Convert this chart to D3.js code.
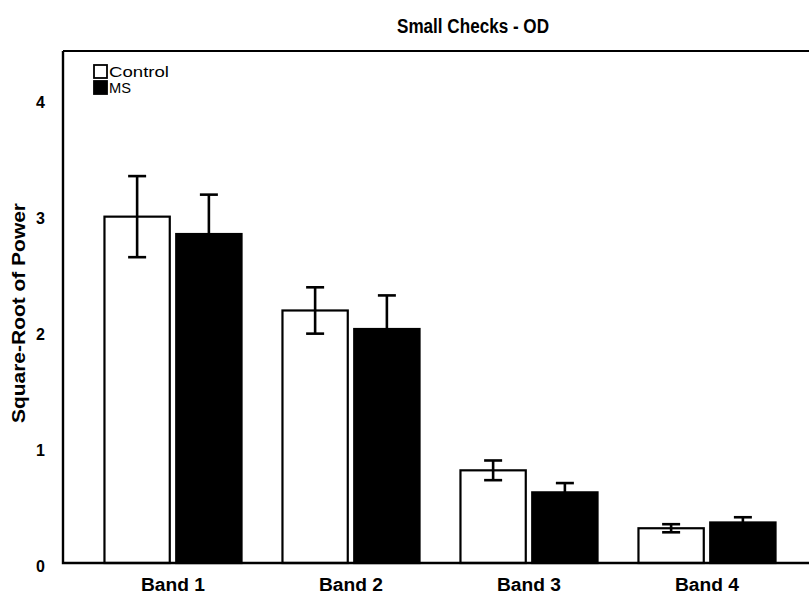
<!DOCTYPE html>
<html>
<head>
<meta charset="utf-8">
<script src="https://cdn.jsdelivr.net/npm/d3@7"></script>
<style>
  html, body { margin: 0; padding: 0; background: #fff; }
  svg { display: block; font-family: Arial, "Liberation Sans", sans-serif; }
</style>
</head>
<body>
<svg id="chart" width="809" height="594"></svg>
<script>
// Bands and groups
const bands = ["Band 1", "Band 2", "Band 3", "Band 4"];
const groups = ["Control", "MS"];

// Mean square-root of power per band
const controlMean = [2.99, 2.18, 0.80, 0.30];
const msMean      = [2.84, 2.02, 0.61, 0.35];

// Error bar half-widths (upper = lower)
const controlErr = [0.35, 0.20, 0.085, 0.035];
const msErr      = [0.34, 0.29, 0.08, 0.045];

const yTicks = [0, 1, 2, 3, 4];

const svg = d3.select("#chart");
const margin = { left: 63, top: 51, bottom: 563, right: 812 };

const y = d3.scaleLinear().domain([0, 4.42]).range([margin.bottom, margin.top]);
const x = d3.scaleBand().domain(bands).range([84, 796]).paddingInner(0.23).paddingOuter(0.115);
const xg = d3.scaleBand().domain(groups).range([0, x.bandwidth()]).paddingInner(0.09);

const rows = bands.map((b, i) => [
  { band: b, group: "Control", v: controlMean[i], e: controlErr[i] },
  { band: b, group: "MS", v: msMean[i], e: msErr[i] }
]).flat();

const fill = { Control: "#fff", MS: "#000" };

// Title
svg.append("text")
  .attr("x", 473).attr("y", 33)
  .attr("text-anchor", "middle")
  .attr("font-size", 20).attr("font-weight", "bold")
  .attr("textLength", 152).attr("lengthAdjust", "spacingAndGlyphs")
  .text("Small Checks - OD");

// Y axis label
svg.append("text")
  .attr("transform", "translate(25,313) rotate(-90)")
  .attr("text-anchor", "middle")
  .attr("font-size", 18).attr("font-weight", "bold")
  .attr("textLength", 220).attr("lengthAdjust", "spacingAndGlyphs")
  .text("Square-Root of Power");

// Bars
const bar = svg.append("g");
bar.selectAll("rect").data(rows).join("rect")
  .attr("x", d => x(d.band) + xg(d.group))
  .attr("width", xg.bandwidth())
  .attr("y", d => y(d.v))
  .attr("height", d => y(0) - y(d.v))
  .attr("fill", d => fill[d.group])
  .attr("stroke", "#000")
  .attr("stroke-width", 2.2);

// Error bars: Control shows both whiskers, MS only the upper whisker
const err = svg.append("g").attr("stroke", "#000").attr("stroke-width", 2.6);
rows.forEach(d => {
  const cx = x(d.band) + xg(d.group) + xg.bandwidth() / 2;
  const lo = d.group === "Control" ? d.v - d.e : d.v;
  const hi = d.v + d.e;
  err.append("line").attr("x1", cx).attr("x2", cx).attr("y1", y(lo)).attr("y2", y(hi));
  err.append("line").attr("x1", cx - 9).attr("x2", cx + 9).attr("y1", y(hi)).attr("y2", y(hi));
  if (d.group === "Control")
    err.append("line").attr("x1", cx - 9).attr("x2", cx + 9).attr("y1", y(lo)).attr("y2", y(lo));
});

// Y axis (labels only, no tick marks)
const yAxis = svg.append("g")
  .attr("transform", `translate(${margin.left},0)`)
  .call(d3.axisLeft(y).tickValues(yTicks).tickFormat(d3.format("d")).tickSize(0).tickPadding(18));
yAxis.select(".domain").remove();
yAxis.selectAll("text").attr("font-size", 16).attr("font-weight", "bold")
  .attr("dy", "0.5em")
  .attr("font-family", "Arial, 'Liberation Sans', sans-serif").attr("fill", "#000");

// X axis (labels only)
const xAxis = svg.append("g")
  .attr("transform", `translate(0,${margin.bottom})`)
  .call(d3.axisBottom(x).tickSize(0).tickPadding(15));
xAxis.select(".domain").remove();
xAxis.selectAll("text").attr("font-size", 18).attr("font-weight", "bold")
  .attr("textLength", 64).attr("lengthAdjust", "spacingAndGlyphs")
  .attr("font-family", "Arial, 'Liberation Sans', sans-serif").attr("fill", "#000");

// Frame: left, bottom and top lines
const frame = svg.append("g").attr("stroke", "#000").attr("fill", "none");
frame.append("path").attr("stroke-width", 2.4)
  .attr("d", `M${margin.left},${margin.top}V${margin.bottom}H${margin.right}`);
frame.append("path").attr("stroke-width", 2)
  .attr("d", `M${margin.left},${margin.top}H${margin.right}`);

// Legend
const legend = svg.append("g").attr("transform", "translate(93,64)");
groups.forEach((g, i) => {
  const row = legend.append("g").attr("transform", `translate(0,${i * 16})`);
  row.append("rect").attr("x", 1).attr("y", 1).attr("width", 13).attr("height", 13)
    .attr("fill", fill[g]).attr("stroke", "#000").attr("stroke-width", 1.8);
  row.append("text").attr("x", 16).attr("y", 13)
    .attr("font-size", 15)
    .attr("textLength", g === "Control" ? 60 : 22).attr("lengthAdjust", "spacingAndGlyphs")
    .text(g);
});
</script>
</body>
</html>
